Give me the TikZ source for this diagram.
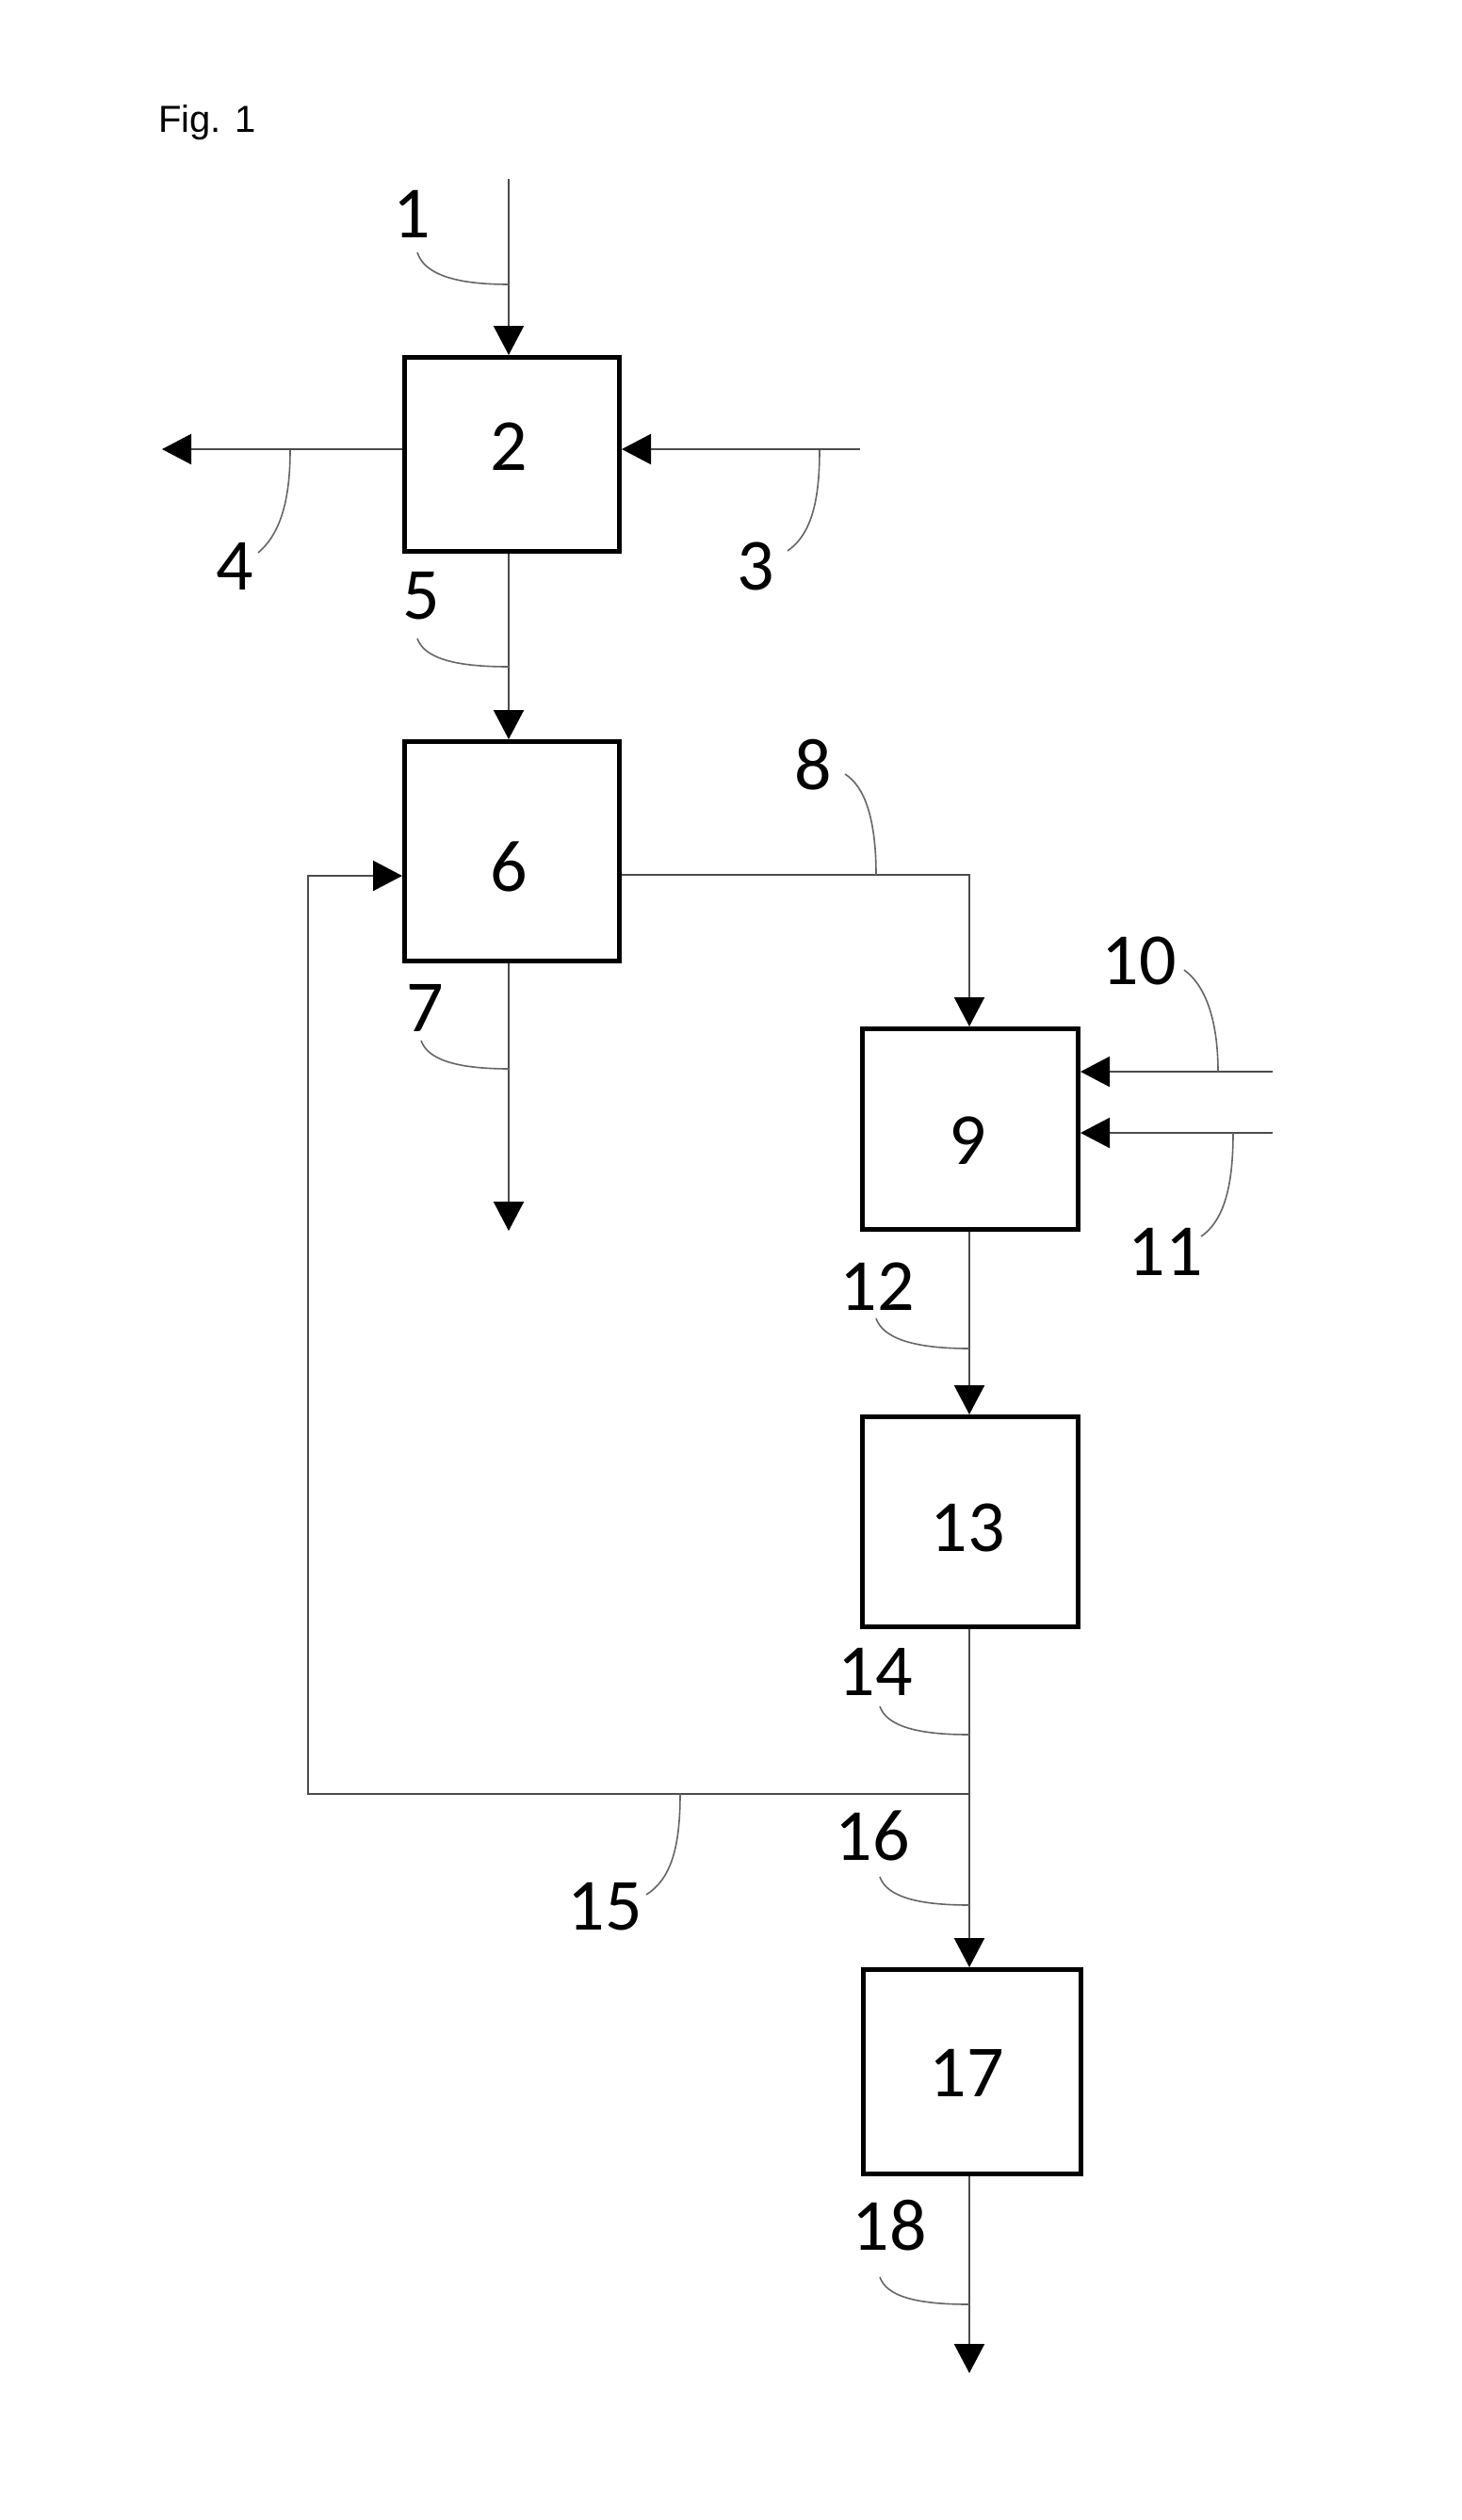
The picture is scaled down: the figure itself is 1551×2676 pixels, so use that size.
\documentclass[tikz,border=0pt]{standalone}
\usepackage{fontspec}
\setmainfont{Carlito}
\newfontfamily\figfont{Liberation Sans}
\usetikzlibrary{arrows.meta}
\begin{document}
\begin{tikzpicture}[x=1pt,y=-1pt,
  box/.style={draw=black,line width=5pt,inner sep=0pt,fill=none},
  num/.style={inner sep=0pt,font=\fontsize{78}{90}\selectfont},
  flow/.style={draw=black!70,line width=2.2pt},
  arr/.style={flow,-{Triangle[length=31pt,width=32pt,color=black]}},
  lead/.style={draw=black!60,line width=1.6pt}]
\fill[white] (0,0) rectangle (1551,2676);
\useasboundingbox (0,0) rectangle (1551,2676);

\node[anchor=base west,inner sep=0pt,font=\figfont\fontsize{40}{48}\selectfont] (fig) at (168,140) {Fig. 1};

% boxes
\node[box,minimum width=228pt,minimum height=206pt] (b2) at (543.5,482.5) {};
\node[box,minimum width=228pt,minimum height=233pt] (b6) at (543.5,904) {};
\node[box,minimum width=229pt,minimum height=213pt] (b9) at (1030,1199) {};
\node[box,minimum width=229pt,minimum height=223pt] (b13) at (1030,1616) {};
\node[box,minimum width=231pt,minimum height=217pt] (b17) at (1032,2200) {};

% box numbers
\node[num] (t2) at (540,474) {2};
\node[num] (t6) at (540,920) {6};
\node[num] (t9) at (1027,1211) {9};
\node[num] (t13) at (1027,1622) {13};
\node[num] (t17) at (1026,2201) {17};

% reference numerals
\node[num] (n1) at (437,227) {1};
\node[num] (n3) at (802,601) {3};
\node[num] (n4) at (249,601) {4};
\node[num] (n5) at (447,633) {5};
\node[num] (n7) at (451,1070) {7};
\node[num] (n8) at (863,812) {8};
\node[num] (n10) at (1209,1020) {10};
\node[num] (n11) at (1237,1329) {11};
\node[num] (n12) at (931,1366) {12};
\node[num] (n14) at (929,1775) {14};
\node[num] (n15) at (642,2025) {15};
\node[num] (n16) at (926,1949) {16};
\node[num] (n18) at (944,2363) {18};

% coordinates
\coordinate (s1) at (540,190);
\coordinate (e4) at (172,477);
\coordinate (s3) at (913,477);
\coordinate (j8) at (1029,929);
\coordinate (s10) at (1351,1138);
\coordinate (s11) at (1351,1203);
\coordinate (e7) at (540,1307);
\coordinate (j14) at (1029,1905);
\coordinate (c15a) at (327,1905);
\coordinate (c15b) at (327,930);
\coordinate (e18) at (1029,2520);

% flows
\draw[arr] (s1) -- (s1 |- b2.north);
\draw[arr] (b2.west |- e4) -- (e4);
\draw[arr] (s3) -- (s3 -| b2.east);
\draw[arr] (s1 |- b2.south) -- (s1 |- b6.north);
\draw[arr] (b6.east |- j8) -- (j8) -- (j8 |- b9.north);
\draw[arr] (s10) -- (s10 -| b9.east);
\draw[arr] (s11) -- (s11 -| b9.east);
\draw[arr] (s1 |- b6.south) -- (e7);
\draw[arr] (j8 |- b9.south) -- (j8 |- b13.north);
\draw[flow] (j8 |- b13.south) -- (j14);
\draw[arr] (j14) -- (j14 |- b17.north);
\draw[arr] (j14) -- (c15a) -- (c15b) -- (c15b -| b6.west);
\draw[arr] (j8 |- b17.south) -- (e18);

% leaders
\draw[lead] (443,268) .. controls (450,290) and (480,302) .. (540,302);
\draw[lead] (308,478) .. controls (308,525) and (300,565) .. (274,587);
\draw[lead] (870,478) .. controls (870,530) and (862,567) .. (836,585);
\draw[lead] (443,678) .. controls (450,698) and (480,708) .. (540,708);
\draw[lead] (447,1105) .. controls (454,1125) and (484,1135) .. (541,1135);
\draw[lead] (897,822) .. controls (918,835) and (930,870) .. (930,929);
\draw[lead] (1257,1030) .. controls (1278,1045) and (1293,1080) .. (1293,1138);
\draw[lead] (1309,1203) .. controls (1309,1255) and (1301,1295) .. (1275,1313);
\draw[lead] (930,1400) .. controls (937,1420) and (967,1432) .. (1029,1432);
\draw[lead] (934,1812) .. controls (941,1832) and (971,1842) .. (1029,1842);
\draw[lead] (722,1905) .. controls (722,1960) and (713,1995) .. (686,2012);
\draw[lead] (934,1993) .. controls (941,2013) and (971,2023) .. (1029,2023);
\draw[lead] (934,2418) .. controls (941,2438) and (971,2447) .. (1029,2447);
\end{tikzpicture}
\end{document}
